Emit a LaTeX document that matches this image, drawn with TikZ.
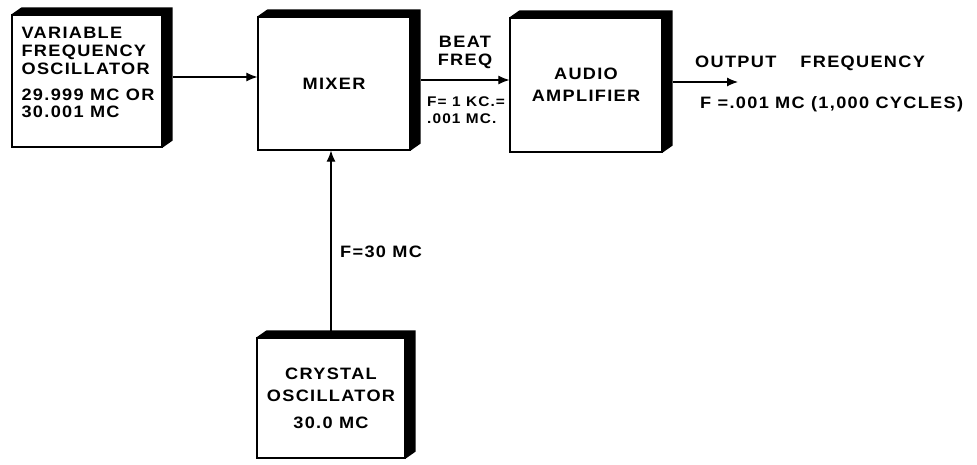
\documentclass[tikz,border=0pt]{standalone}
\usepackage{fontspec}
\setmainfont{Liberation Sans}[FakeStretch=1.1,LetterSpace=8]
\usetikzlibrary{arrows.meta}

\tikzset{
  blk/.style={draw, line width=1.2pt, fill=white, inner sep=0pt},
  lbl/.style={font=\fontsize{16.5}{15}\selectfont\bfseries, inner sep=0pt, align=center},
  arr/.style={-{Latex[length=11pt,width=9pt]}, line width=1.1pt},
}

\begin{document}
\begin{tikzpicture}[x=1pt,y=-1pt]
    \useasboundingbox (0,0) rectangle (977,465);

    % blocks
    \node[blk, minimum width=150pt, minimum height=132pt] (vfo) at (87,81) {};
    \node[blk, lbl, minimum width=152pt, minimum height=133pt] (mixer) at (334,83.5) {MIXER};
    \node[blk, lbl, minimum width=152pt, minimum height=134pt] (amp) at (586,85) {AUDIO\\[7pt]AMPLIFIER};
    \node[blk, lbl, minimum width=148pt, minimum height=120pt] (xtal) at (331,398) {CRYSTAL\\[7pt]OSCILLATOR\\[12pt]30.0 MC};

    % block text
    \node[lbl, align=left, anchor=north west] (vfotxt) at ([shift={(10,13)}]vfo.north west)
        {VARIABLE\\[3pt]FREQUENCY\\[3pt]OSCILLATOR\\[11pt]29.999 MC OR\\[2pt]30.001 MC};

    % shadows
    \foreach \b in {vfo,mixer,amp,xtal}
        \fill (\b.north west) -- ++(10,-7) -- ([shift={(10,-7)}]\b.north east)
            -- ([shift={(10,-7)}]\b.south east) -- (\b.south east) -- (\b.north east) -- cycle;

    % signal path
    \coordinate (vfoout) at ([shift={(10,-4)}]vfo.east);
    \coordinate (mixout) at ([shift={(10,-3.5)}]mixer.east);
    \coordinate (ampout) at ([shift={(10,-3)}]amp.east);
    \coordinate (out) at (738,82);
    \draw[arr] (vfoout) -- (vfoout -| mixer.west);
    \draw[arr] (mixout) -- (mixout -| amp.west);
    \draw[arr] (ampout) -- (out);
    \draw[arr] (xtal.north) -- (xtal.north |- mixer.south);

    % frequencies
    \node[lbl] (beat) at (465,52) {BEAT\\[3pt]FREQ};
    \node[lbl, font=\fontsize{14}{15}\selectfont\bfseries, align=left, anchor=west] (kc) at (427,110) {F= 1 KC.=\\[2pt].001 MC.};
    \node[lbl, anchor=west] (outname) at (695,63) {OUTPUT\hspace{24pt}FREQUENCY};
    \node[lbl, anchor=west] (outfreq) at (700,104) {F =.001 MC (1,000 CYCLES)};
    \node[lbl, anchor=west] (xtalf) at (340,252) {F=30 MC};
\end{tikzpicture}
\end{document}
